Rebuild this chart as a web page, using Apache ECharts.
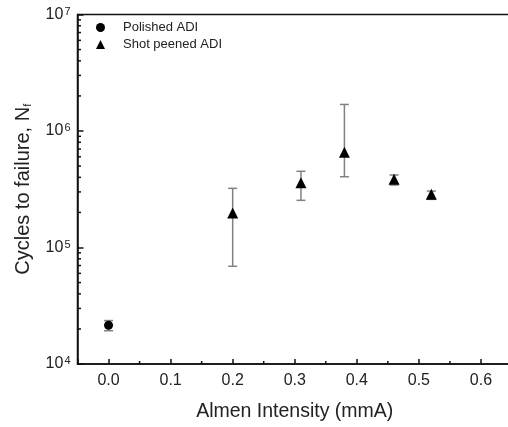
<!DOCTYPE html>
<html><head><meta charset="utf-8">
<script src="https://cdn.jsdelivr.net/npm/echarts@6/dist/echarts.min.js"></script>
<style>html,body{margin:0;padding:0;background:#fff}#c{width:508px;height:427px}</style>
</head><body><div id="c"></div>
<script>
// Data
var polishedX = [0.0];
var polishedMean = [21500];
var polishedLow = [19300];
var polishedHigh = [23600];

var peenedX = [0.2, 0.31, 0.38, 0.46, 0.52];
var peenedMean = [198000, 360000, 656000, 385000, 286000];
var peenedLow = [69000, 254000, 405000, 344000, 259000];
var peenedHigh = [322000, 451000, 1690000, 419000, 305000];

var xMinorTicks = [0.05, 0.15, 0.25, 0.35, 0.45, 0.55];
var yMinorTicks = [];
[1e4, 1e5, 1e6].forEach(function (d) { for (var k = 2; k <= 9; k++) yMinorTicks.push(k * d); });

var X_MIN = -0.05, X_MAX = 0.65, Y_MIN = 1e4, Y_MAX = 1e7;
var FONT = 'Liberation Sans, Arial, sans-serif';
var TXT = '#222';

function errData(xs, lo, hi) { return xs.map(function (x, i) { return [x, lo[i], hi[i]]; }); }
function ptData(xs, ys) { return xs.map(function (x, i) { return [x, ys[i]]; }); }

function renderErr(params, api) {
  var x = api.value(0);
  var lo = api.coord([x, api.value(1)]);
  var hi = api.coord([x, api.value(2)]);
  var w = 4.5;
  var st = { stroke: '#808080', lineWidth: 1.5 };
  return { type: 'group', children: [
    { type: 'line', shape: { x1: hi[0], y1: hi[1], x2: lo[0], y2: lo[1] }, style: st },
    { type: 'line', shape: { x1: hi[0] - w, y1: hi[1], x2: hi[0] + w, y2: hi[1] }, style: st },
    { type: 'line', shape: { x1: lo[0] - w, y1: lo[1], x2: lo[0] + w, y2: lo[1] }, style: st }
  ]};
}

var chart = echarts.init(document.getElementById('c'), null, { renderer: 'canvas' });
chart.setOption({
  animation: false,
  backgroundColor: '#fff',
  grid: { left: 77.5, top: 14.5, bottom: 63, right: -4, outerBoundsMode: 'none', containLabel: false,
          show: true, borderColor: '#111', borderWidth: 1.5, backgroundColor: 'transparent' },
  legend: {
    orient: 'vertical', left: 91, top: 16, itemGap: 4, itemWidth: 9, itemHeight: 9,
    textStyle: { fontFamily: FONT, fontSize: 13, color: TXT, padding: [0, 0, 0, 13] },
    data: [ { name: 'Polished ADI', icon: 'circle' }, { name: 'Shot peened ADI', icon: 'triangle' } ]
  },
  xAxis: {
    type: 'value', min: X_MIN, max: X_MAX, splitNumber: 7,
    name: 'Almen Intensity (mmA)', nameLocation: 'middle', nameGap: 38,
    nameTextStyle: { fontFamily: FONT, fontSize: 19.5, color: TXT },
    axisLine: { show: true, onZero: false, lineStyle: { color: '#111', width: 1.5 } },
    axisTick: { show: true, inside: true, length: 5, lineStyle: { color: '#111', width: 1.5 } },
    axisLabel: { fontFamily: FONT, fontSize: 16, color: TXT, margin: 9,
      formatter: function (v) { var r = Math.round(v * 10); return Math.abs(v * 10 - r) < 1e-6 ? (r / 10).toFixed(1) : ''; } },
    splitLine: { show: false }
  },
  yAxis: {
    type: 'log', logBase: 10, min: Y_MIN, max: Y_MAX,
    name: '{a|Cycles to failure, N}{s|f}', nameLocation: 'middle', nameGap: 44,
    nameTextStyle: { fontFamily: FONT, fontSize: 20, color: TXT,
      rich: { a: { fontFamily: FONT, fontSize: 20, color: TXT },
              s: { fontFamily: FONT, fontSize: 11, color: TXT, verticalAlign: 'bottom', padding: [10, 0, 0, 0] } } },
    axisLine: { show: true, onZero: false, lineStyle: { color: '#111', width: 1.5 } },
    axisTick: { show: true, inside: true, length: 6, lineStyle: { color: '#111', width: 1.5 } },
    minorTick: { show: false },
    axisLabel: { color: TXT, margin: 7,
      formatter: function (v) { var e = Math.round(Math.log10(v)); return '{b|10}{s|' + e + '}'; },
      rich: { b: { fontFamily: FONT, fontSize: 16, color: TXT },
              s: { fontFamily: FONT, fontSize: 11, color: TXT, verticalAlign: 'top', padding: [0, 0, 6, 1] } } },
    splitLine: { show: false }
  },
  series: [
    { name: 'xminor', type: 'custom', silent: true, z: 1,
      data: xMinorTicks.map(function (v) { return [v, Y_MIN]; }),
      renderItem: function (p, api) { var c = api.coord([api.value(0), Y_MIN]);
        return { type: 'line', shape: { x1: c[0], y1: c[1], x2: c[0], y2: c[1] - 3 }, style: { stroke: '#111', lineWidth: 1.5 } }; } },
    { name: 'yminor', type: 'custom', silent: true, z: 1,
      data: yMinorTicks.map(function (v) { return [X_MIN, v]; }),
      renderItem: function (p, api) { var c = api.coord([X_MIN, api.value(1)]);
        return { type: 'line', shape: { x1: c[0], y1: c[1], x2: c[0] + 3.5, y2: c[1] }, style: { stroke: '#111', lineWidth: 1.5 } }; } },
    { name: 'errP', type: 'custom', silent: true, z: 2, data: errData(polishedX, polishedLow, polishedHigh), renderItem: renderErr },
    { name: 'errS', type: 'custom', silent: true, z: 2, data: errData(peenedX, peenedLow, peenedHigh), renderItem: renderErr },
    { name: 'Polished ADI', type: 'scatter', symbol: 'circle', symbolSize: 9, z: 3,
      itemStyle: { color: '#000', opacity: 1 }, data: ptData(polishedX, polishedMean) },
    { name: 'Shot peened ADI', type: 'scatter', symbol: 'triangle', symbolSize: 11, z: 3,
      itemStyle: { color: '#000', opacity: 1 }, data: ptData(peenedX, peenedMean) }
  ]
});
</script></body></html>
